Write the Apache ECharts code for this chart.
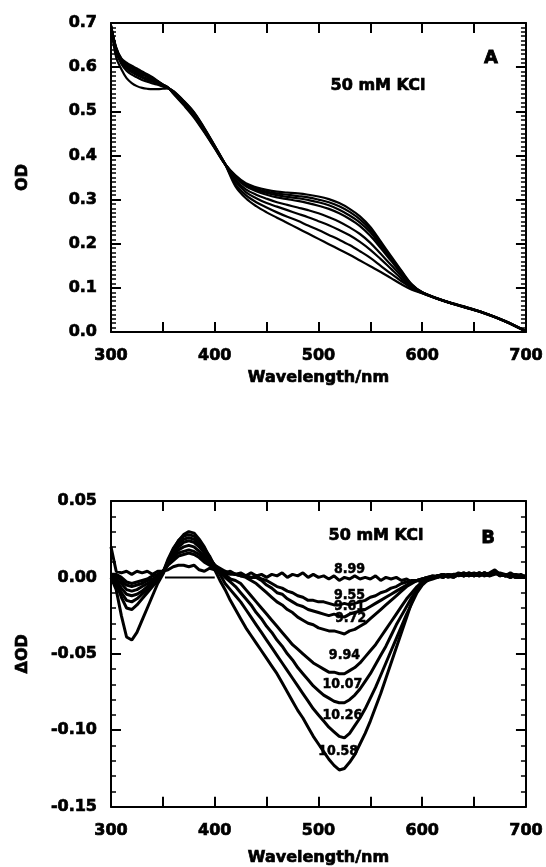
<!DOCTYPE html>
<html><head><meta charset="utf-8">
<script src="https://cdn.jsdelivr.net/npm/echarts@6/dist/echarts.min.js"></script>
<style>html,body{margin:0;padding:0;background:#fff}#c{width:546px;height:867px}</style>
</head><body><div id="c"></div>
<script>
// ---------- Panel A: absorbance spectra (OD) ----------
const wavelengthsA = [300,305,310,315,320,325,330,335,340,345,350,355,360,370,380,390,400,410,420,430,440,450,460,470,480,490,500,510,520,530,540,550,560,570,580,590,600,620,640,660,680,700];
const odA1 = [.695,.645,.620,.610,.603,.597,.590,.584,.577,.569,.561,.554,.540,.514,.486,.452,.416,.380,.355,.337,.328,.322,.318,.316,.314,.311,.307,.301,.292,.279,.262,.238,.205,.172,.139,.108,.090,.072,.058,.043,.025,.002];
const odA2 = [.694,.643,.618,.608,.600,.594,.587,.582,.575,.568,.560,.554,.541,.516,.488,.454,.417,.380,.353,.335,.325,.318,.314,.311,.308,.305,.300,.294,.285,.272,.255,.232,.200,.169,.137,.107,.090,.071,.057,.043,.024,.002];
const odA3 = [.694,.642,.617,.606,.598,.592,.586,.580,.574,.567,.560,.553,.542,.517,.490,.455,.418,.380,.352,.332,.322,.315,.310,.306,.303,.299,.294,.287,.277,.264,.248,.226,.195,.165,.135,.106,.090,.071,.057,.042,.024,.001];
const odA4 = [.693,.641,.615,.603,.596,.589,.583,.578,.572,.565,.559,.553,.543,.519,.492,.457,.419,.381,.350,.330,.319,.311,.305,.301,.297,.292,.286,.279,.269,.256,.240,.218,.190,.161,.132,.105,.089,.072,.058,.043,.025,.002];
const odA5 = [.693,.638,.613,.600,.592,.585,.579,.574,.569,.563,.558,.553,.544,.520,.494,.458,.420,.380,.345,.323,.311,.302,.294,.288,.282,.276,.269,.260,.250,.237,.222,.202,.177,.152,.127,.103,.089,.071,.057,.042,.024,.001];
const odA6 = [.692,.636,.610,.597,.588,.582,.576,.571,.567,.562,.557,.552,.545,.522,.496,.460,.421,.381,.341,.317,.303,.292,.284,.276,.268,.260,.251,.242,.231,.219,.204,.186,.165,.143,.121,.101,.089,.071,.057,.043,.025,.002];
const odA7 = [.691,.634,.607,.592,.583,.577,.571,.567,.563,.560,.556,.552,.545,.523,.497,.461,.421,.380,.335,.310,.294,.282,.271,.261,.252,.241,.231,.220,.209,.197,.183,.168,.150,.132,.115,.099,.088,.071,.056,.042,.024,.001];
const odA8 = [.690,.622,.595,.575,.564,.557,.553,.551,.550,.550,.551,.552,.546,.524,.498,.462,.422,.380,.330,.303,.285,.271,.259,.247,.235,.223,.211,.199,.187,.175,.162,.149,.136,.122,.108,.096,.088,.071,.057,.043,.024,.002];
const seriesA = [odA1, odA2, odA3, odA4, odA5, odA6, odA7, odA8];

// ---------- Panel B: difference spectra (ΔOD) ----------
const wavelengthsB = [300,305,310,315,320,325,330,335,340,345,350,355,360,365,370,375,380,385,390,395,400,405,410,415,420,425,430,435,440,445,450,455,460,465,470,475,480,485,490,495,500,505,510,515,520,525,530,535,540,545,550,555,560,565,570,575,580,585,590,595,600,605,610,615,620,625,630,635,640,645,650,655,660,665,670,675,680,685,690,695,700];
const pHLabels = ['8.99','9.55','9.61','9.72','9.94','10.07','10.26','10.58'];
const dB899 = [.020,.004,.003,.004,.002,.004,.003,.004,.002,.004,
  .004,.005,.007,.008,.008,.007,.008,.005,.004,.006,
  .005,.004,.003,.004,.002,.003,.001,.003,.001,.002,
  .000,.002,.001,.003,.000,.002,.001,.003,.000,.002,
  .000,.001,-.001,.001,-.002,.000,-.001,.001,-.001,.000,
  -.001,.001,-.002,.000,-.001,.000,-.002,-.001,-.003,-.002,
  -.003,-.002,-.001,.000,.001,.001,.002,.001,.003,.002,
  .003,.001,.002,.003,.005,.002,.001,.002,.000,.001,.001];
const dB955 = [.002,.002,.000,-.003,-.004,-.003,-.002,-.001,.001,.002,
  .004,.008,.011,.014,.015,.016,.015,.013,.010,.008,
  .006,.004,.003,.002,.002,.001,.001,.000,.001,-.001,
  -.002,-.004,-.006,-.007,-.009,-.010,-.012,-.013,-.015,-.015,
  -.016,-.016,-.017,-.018,-.018,-.017,-.018,-.017,-.016,-.015,
  -.013,-.012,-.010,-.009,-.007,-.006,-.004,-.003,-.002,-.002,
  -.001,.000,.001,.000,.002,.001,.002,.002,.001,.003,
  .002,.001,.003,.002,.004,.002,.001,.003,.001,.000,.001];
const dB961 = [.001,.001,-.002,-.005,-.006,-.005,-.004,-.002,-.001,.001,
  .004,.009,.013,.016,.017,.018,.017,.015,.012,.009,
  .007,.005,.003,.003,.002,.002,.001,.000,.000,-.002,
  -.005,-.007,-.010,-.011,-.014,-.016,-.018,-.019,-.021,-.022,
  -.023,-.024,-.025,-.024,-.025,-.026,-.024,-.023,-.022,-.021,
  -.019,-.017,-.015,-.013,-.011,-.009,-.007,-.005,-.003,-.002,
  -.001,.000,.001,.001,.000,.002,.001,.003,.002,.001,
  .002,.003,.001,.002,.003,.001,.002,.000,.002,.001,.000];
const dB972 = [.000,-.001,-.004,-.008,-.009,-.008,-.006,-.004,-.002,.000,
  .003,.009,.014,.018,.020,.021,.020,.017,.014,.011,
  .008,.006,.004,.003,.002,.001,.000,-.002,-.004,-.007,
  -.010,-.013,-.016,-.018,-.021,-.023,-.026,-.028,-.030,-.031,
  -.033,-.034,-.035,-.035,-.036,-.037,-.035,-.034,-.032,-.030,
  -.027,-.024,-.021,-.018,-.015,-.012,-.009,-.006,-.004,-.002,
  -.001,.000,.000,.001,.002,.001,.000,.002,.001,.002,
  .001,.002,.003,.001,.002,.003,.002,.001,.000,.001,.000];
const dB994 = [.000,-.002,-.007,-.011,-.012,-.011,-.009,-.006,-.003,.000,
  .003,.010,.016,.020,.023,.024,.023,.020,.016,.012,
  .008,.005,.002,-.001,-.002,-.004,-.008,-.012,-.016,-.020,
  -.024,-.028,-.032,-.036,-.040,-.044,-.047,-.050,-.053,-.056,
  -.058,-.060,-.062,-.062,-.063,-.063,-.061,-.059,-.056,-.052,
  -.048,-.044,-.039,-.034,-.029,-.024,-.019,-.014,-.010,-.006,
  -.003,-.001,.000,.001,.000,.002,.001,.002,.003,.001,
  .002,.001,.003,.002,.004,.001,.002,.000,.001,.002,.000];
const dB1007 = [.000,-.003,-.010,-.015,-.016,-.014,-.011,-.008,-.004,-.001,
  .003,.011,.018,.022,.025,.026,.025,.022,.018,.013,
  .008,.004,.000,-.003,-.006,-.010,-.014,-.018,-.023,-.027,
  -.032,-.036,-.041,-.045,-.050,-.054,-.059,-.063,-.067,-.071,
  -.074,-.077,-.079,-.081,-.082,-.082,-.080,-.077,-.073,-.068,
  -.063,-.057,-.051,-.045,-.038,-.031,-.025,-.019,-.013,-.008,
  -.004,-.002,.000,.001,.000,.002,.001,.002,.001,.003,
  .001,.002,.003,.001,.004,.002,.001,.002,.000,.001,.000];
const dB1026 = [.000,-.004,-.013,-.020,-.021,-.018,-.014,-.010,-.006,-.002,
  .003,.012,.019,.024,.027,.028,.027,.024,.019,.014,
  .007,.002,-.004,-.008,-.012,-.016,-.021,-.026,-.031,-.036,
  -.041,-.046,-.051,-.056,-.061,-.066,-.071,-.076,-.081,-.086,
  -.090,-.094,-.098,-.101,-.104,-.105,-.102,-.097,-.092,-.086,
  -.079,-.072,-.064,-.056,-.048,-.040,-.032,-.024,-.017,-.010,
  -.005,-.002,.000,.001,.002,.001,.000,.002,.001,.002,
  .002,.003,.001,.002,.003,.002,.001,.002,.001,.000,.001];
const dB1058 = [.000,-.008,-.025,-.039,-.041,-.036,-.028,-.020,-.012,-.004,
  .002,.010,.018,.024,.028,.030,.029,.025,.020,.013,
  .005,-.002,-.008,-.015,-.021,-.027,-.033,-.038,-.043,-.048,
  -.053,-.058,-.063,-.069,-.075,-.081,-.087,-.092,-.098,-.104,
  -.109,-.114,-.119,-.123,-.126,-.125,-.121,-.116,-.109,-.102,
  -.094,-.085,-.076,-.066,-.056,-.046,-.036,-.026,-.016,-.008,
  -.003,-.001,.000,.001,.002,.000,.001,.002,.001,.002,
  .001,.003,.002,.001,.003,.002,.001,.000,.002,.001,.000];
const seriesB = [dB899, dB955, dB961, dB972, dB994, dB1007, dB1026, dB1058];
const baseLineB = [[352, 0], [400, 0]];

// label anchors (layout) for the pH annotations in panel B, in data units
const pHLabelAnchor = [[530,0.005],[530,-0.012],[530,-0.019],[531,-0.027],[525,-0.051],[523,-0.070],[523,-0.090],[519,-0.114]];

const FONT = '"DejaVu Sans", sans-serif';
const NARROW = '"Liberation Sans Narrow", "DejaVu Sans Condensed", sans-serif';
const BLACK = '#000';
const HEAVY = { textBorderColor: BLACK, textBorderWidth: 0.7 };

function xAxisDef(gridIndex, position, withLabels, nameGap) {
  return {
    type: 'value', gridIndex, position, min: 300, max: 700, interval: 50,
    name: withLabels ? 'Wavelength/nm' : '', nameLocation: 'middle', nameGap: nameGap || 0,
    nameTextStyle: Object.assign({ fontFamily: FONT, fontWeight: 'bold', fontSize: 16, color: BLACK }, HEAVY),
    axisLine: { show: true, onZero: false, lineStyle: { color: BLACK, width: 2 } },
    axisTick: { show: true, inside: true, length: 10, lineStyle: { color: BLACK, width: 2 } },
    axisLabel: Object.assign({ show: withLabels, margin: 16, fontFamily: FONT, fontWeight: 'bold', fontSize: 16, color: BLACK,
      formatter: v => (v % 100 === 0 ? String(v) : '') }, HEAVY),
    splitLine: { show: false }
  };
}
function yAxisDef(gridIndex, position, min, max, interval, digits, withLabels, name) {
  return {
    type: 'value', gridIndex, position, min, max, interval,
    name: withLabels ? name : '', nameLocation: 'middle', nameGap: 80,
    nameTextStyle: Object.assign({ fontFamily: FONT, fontWeight: 'bold', fontSize: 16, color: BLACK }, HEAVY),
    axisLine: { show: true, onZero: false, lineStyle: { color: BLACK, width: 2 } },
    axisTick: { show: true, inside: true, length: 10, lineStyle: { color: BLACK, width: 2 } },
    minorTick: { show: true, splitNumber: digits === 1 ? 10 : 5, length: 5, lineStyle: { color: BLACK, width: 1.5 } },
    axisLabel: Object.assign({ show: withLabels, margin: 14, fontFamily: FONT, fontWeight: 'bold', fontSize: 16, color: BLACK,
      formatter: v => (Math.abs(v) < 1e-9 ? 0 : v).toFixed(digits) }, HEAVY),
    splitLine: { show: false }
  };
}

const series = [];
seriesA.forEach((vals, k) => {
  series.push({
    type: 'line', name: 'A' + k, xAxisIndex: 0, yAxisIndex: 0,
    data: wavelengthsA.map((w, i) => [w, vals[i]]),
    showSymbol: false, smooth: 0.35, lineStyle: { color: BLACK, width: 2.2 }, z: 3
  });
});
seriesB.forEach((vals, k) => {
  series.push({
    type: 'line', name: pHLabels[k], xAxisIndex: 2, yAxisIndex: 2,
    data: wavelengthsB.map((w, i) => [w, vals[i]]),
    showSymbol: false, lineStyle: { color: BLACK, width: 3 }, z: 3
  });
});
series.push({
  type: 'line', name: 'baseline', xAxisIndex: 2, yAxisIndex: 2, data: baseLineB,
  showSymbol: false, lineStyle: { color: BLACK, width: 2 }, z: 3
});

const chart = echarts.init(document.getElementById('c'), null, { renderer: 'canvas' });
const staticText = [
  { type: 'text', x: 378, y: 86, style: { text: '50 mM KCl', font: 'bold 16px ' + FONT, fill: BLACK, stroke: BLACK, lineWidth: 0.7, align: 'center', verticalAlign: 'middle' } },
  { type: 'text', x: 491, y: 58, style: { text: 'A', font: 'bold 18px ' + FONT, fill: BLACK, stroke: BLACK, lineWidth: 0.8, align: 'center', verticalAlign: 'middle' } },
  { type: 'text', x: 376, y: 536, style: { text: '50 mM KCl', font: 'bold 16px ' + FONT, fill: BLACK, stroke: BLACK, lineWidth: 0.7, align: 'center', verticalAlign: 'middle' } },
  { type: 'text', x: 488, y: 538, style: { text: 'B', font: 'bold 18px ' + FONT, fill: BLACK, stroke: BLACK, lineWidth: 0.8, align: 'center', verticalAlign: 'middle' } }
];
chart.setOption({
  animation: false,
  backgroundColor: '#fff',
  grid: [
    { left: 111, top: 23, width: 416, height: 309 },
    { left: 111, top: 501, width: 416, height: 306 }
  ],
  xAxis: [
    xAxisDef(0, 'bottom', true, 38),
    xAxisDef(0, 'top', false),
    xAxisDef(1, 'bottom', true, 43),
    xAxisDef(1, 'top', false)
  ],
  yAxis: [
    yAxisDef(0, 'left', 0, 0.7, 0.1, 1, true, 'OD'),
    yAxisDef(0, 'right', 0, 0.7, 0.1, 1, false),
    yAxisDef(1, 'left', -0.15, 0.05, 0.05, 2, true, 'ΔOD'),
    yAxisDef(1, 'right', -0.15, 0.05, 0.05, 2, false)
  ],
  graphic: staticText,
  series
});
// pH annotations placed through the panel-B axes
const phText = pHLabels.map((t, i) => {
  const p = chart.convertToPixel({ xAxisIndex: 2, yAxisIndex: 2 }, pHLabelAnchor[i]);
  return { type: 'text', x: p[0], y: p[1], z: 10,
    style: { text: t, font: 'bold 14px ' + NARROW, fill: BLACK, stroke: BLACK, lineWidth: 0.5, align: 'center', verticalAlign: 'middle' } };
});
chart.setOption({ graphic: staticText.concat(phText) });
</script>
</body></html>
